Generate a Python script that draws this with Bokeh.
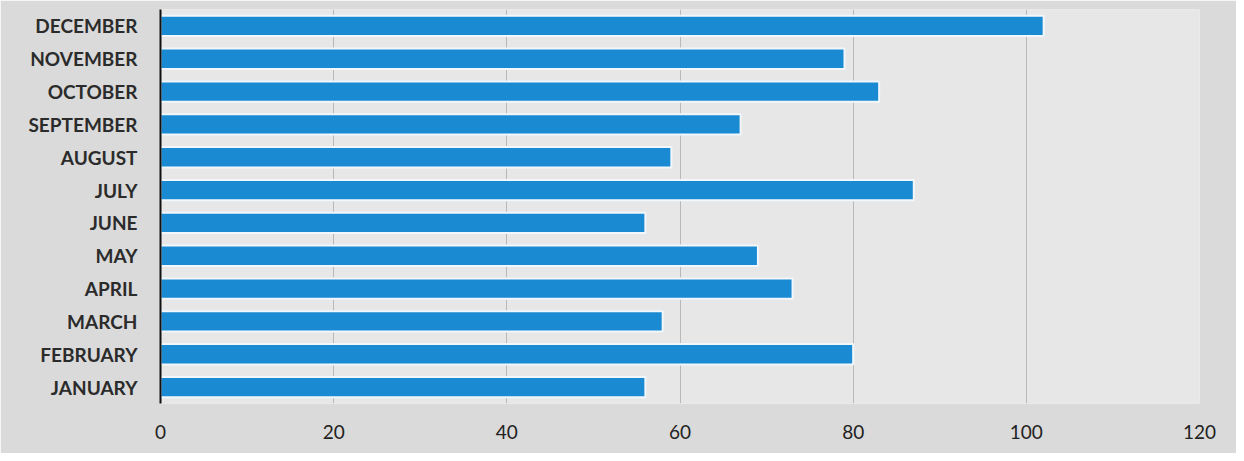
from bokeh.plotting import figure
from bokeh.models import Range1d, FactorRange
from bokeh.embed import file_html
from bokeh.resources import INLINE

months = ["JANUARY", "FEBRUARY", "MARCH", "APRIL", "MAY", "JUNE",
          "JULY", "AUGUST", "SEPTEMBER", "OCTOBER", "NOVEMBER", "DECEMBER"]
values = [56, 80, 58, 73, 69, 56, 87, 59, 67, 83, 79, 102]
x_ticks = [0, 20, 40, 60, 80, 100, 120]

p = figure(width=1236, height=453, y_range=FactorRange(*months),
           x_range=Range1d(0, 120), output_backend="svg", toolbar_location=None,
           min_border_left=160, min_border_right=37, min_border_top=9, min_border_bottom=50)

p.hbar(y=months, right=values, left=0, height=0.62, fill_color="#1a8ad2",
       line_color="#f2f7fb", line_width=2)

p.background_fill_color = "#e7e7e7"
p.border_fill_color = "#dadada"
p.outline_line_color = None

p.xaxis.ticker = x_ticks
p.xaxis.axis_line_color = None
p.xaxis.major_tick_line_color = None
p.xaxis.minor_tick_line_color = None
p.xaxis.major_label_text_font = "Lato"
p.xaxis.major_label_text_font_size = "19px"
p.xaxis.major_label_text_color = "#222222"
p.xaxis.major_label_standoff = 15

p.yaxis.axis_line_color = "#111111"
p.yaxis.axis_line_width = 2
p.yaxis.major_tick_line_color = None
p.yaxis.minor_tick_line_color = None
p.yaxis.major_label_text_font = "Lato"
p.yaxis.major_label_text_font_style = "bold"
p.yaxis.major_label_text_font_size = "19px"
p.yaxis.major_label_text_color = "#2b2b2b"
p.yaxis.major_label_standoff = 17

p.xgrid.grid_line_color = "#9a9a9a"
p.xgrid.grid_line_alpha = 0.6
p.ygrid.grid_line_color = None

open("out.html", "w").write(file_html(p, INLINE))
